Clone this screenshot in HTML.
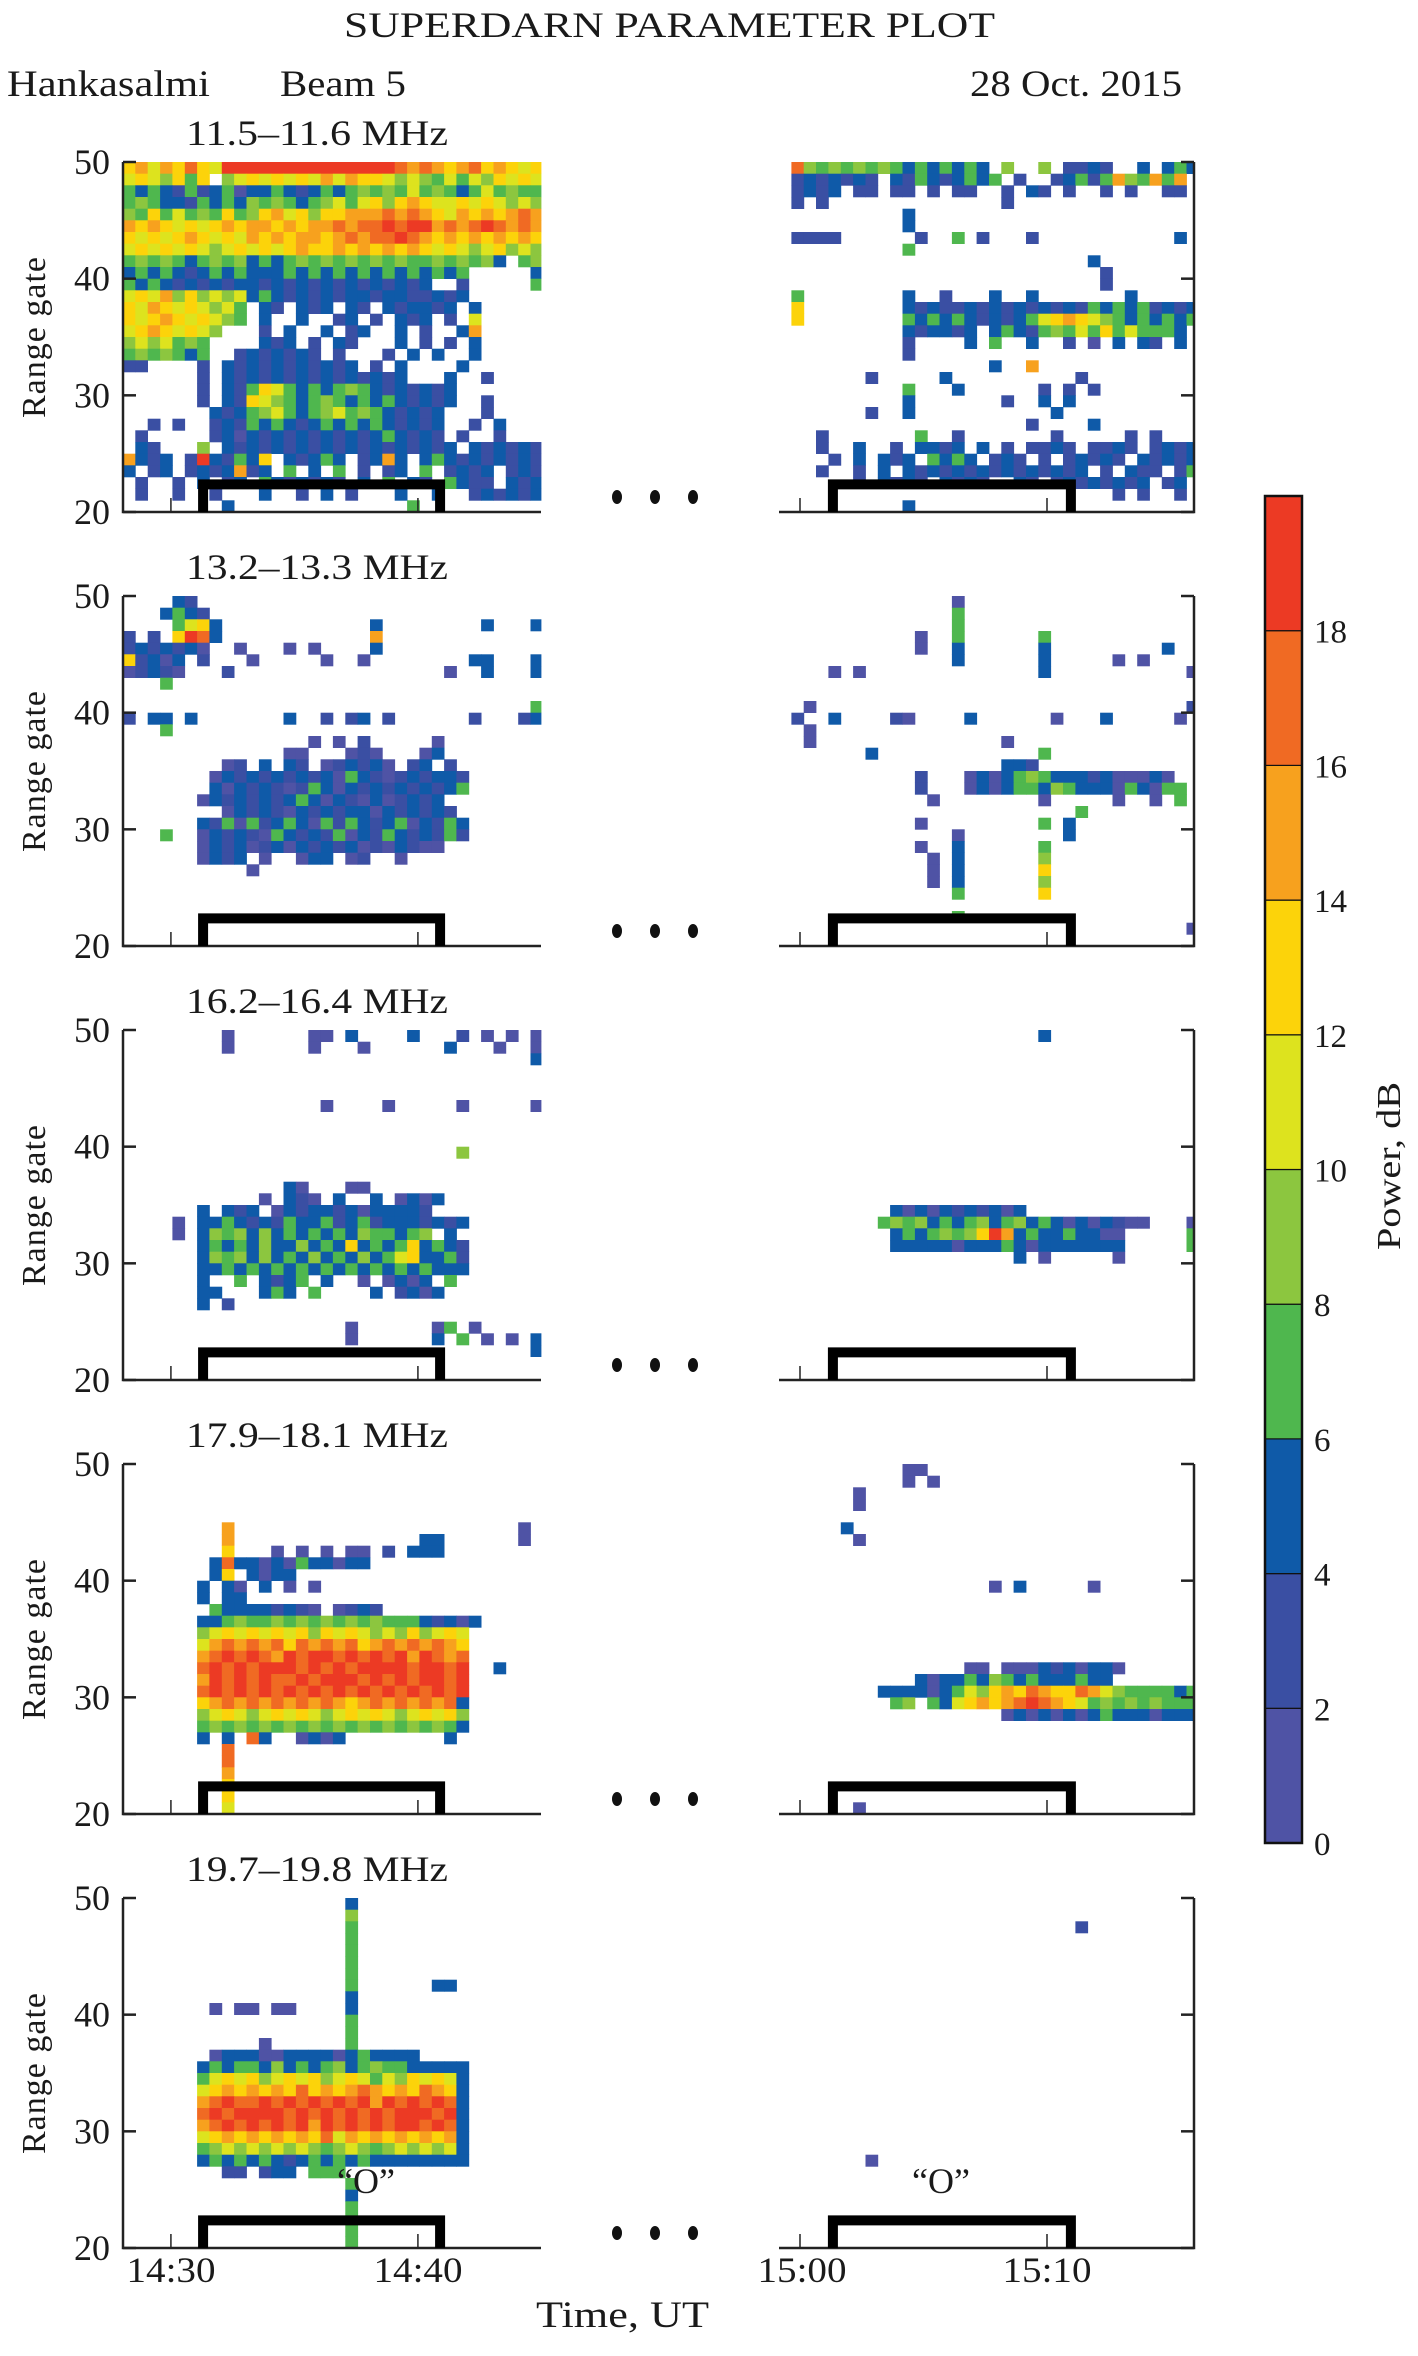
<!DOCTYPE html>
<html><head><meta charset="utf-8"><title>SuperDARN parameter plot</title>
<style>
html,body{margin:0;padding:0;background:#fff;}
svg{display:block;}
text{font-family:"Liberation Serif",serif;fill:#1a1a1a;}
</style></head>
<body>
<svg id="chart" xmlns="http://www.w3.org/2000/svg" width="1418" height="2356" viewBox="0 0 1418 2356">
<rect x="0" y="0" width="1418" height="2356" fill="#fff"/>
<text x="344" y="37" font-size="36" textLength="651" lengthAdjust="spacingAndGlyphs">SUPERDARN PARAMETER PLOT</text>
<text x="7" y="96" font-size="37" textLength="203" lengthAdjust="spacingAndGlyphs">Hankasalmi</text>
<text x="280" y="96" font-size="37" textLength="126" lengthAdjust="spacingAndGlyphs">Beam 5</text>
<text x="970" y="96" font-size="37" textLength="212" lengthAdjust="spacingAndGlyphs">28 Oct. 2015</text>
<g id="panels"></g>
<g id="colorbar"></g>
<text transform="translate(1400,1166) rotate(-90)" text-anchor="middle" font-size="34" textLength="168" lengthAdjust="spacingAndGlyphs">Power, dB</text>
<text x="171" y="2282" text-anchor="middle" font-size="36" textLength="89" lengthAdjust="spacingAndGlyphs">14:30</text>
<text x="418" y="2282" text-anchor="middle" font-size="36" textLength="89" lengthAdjust="spacingAndGlyphs">14:40</text>
<text x="802" y="2282" text-anchor="middle" font-size="36" textLength="89" lengthAdjust="spacingAndGlyphs">15:00</text>
<text x="1047" y="2282" text-anchor="middle" font-size="36" textLength="89" lengthAdjust="spacingAndGlyphs">15:10</text>
<text x="536" y="2327" font-size="37" textLength="173" lengthAdjust="spacingAndGlyphs">Time, UT</text>
<text x="366" y="2193" text-anchor="middle" font-size="36">“O”</text>
<text x="941" y="2193" text-anchor="middle" font-size="36">“O”</text>
</svg>
<script>
// ---- data ----
const freqLabels = ["11.5–11.6 MHz","13.2–13.3 MHz","16.2–16.4 MHz","17.9–18.1 MHz","19.7–19.8 MHz"];
const yTickValues = [20,30,40,50];
const xTickTimesLeft = [870,880];
const xTickTimesRight = [900,910];
const colorbarTicks = [0,2,4,6,8,10,12,14,16,18];
const bracketLeft = [871.1,881.1];
const bracketRight = [901.13,911.17];
const leftStartTime = 868.06;
const rightStartTime = 899.15;
const cellMinutes = 0.5;
// rows: gate 49 (first) down to gate 20 (last); '.' = no echo; digit = power bin (2 dB each)
const p1Left = [
"6757686599999999999999878767867656",
"5654636.45656565757665454353546565",
"3232131230223212323434353432353433",
"3432213232434323453564676556565454",
"4363534363467564667778787657676787",
"7676565676776767787889899787898787",
"6565676565767677678788987676767676",
"5656565456565676676767676565456454",
"3434323434232343434343433434342.34",
"2323212323222323232323232323.....2",
"3232121212212121212121212..1.....3",
"5657464545232121212212211212......",
"6576565453.21.212.21.212212.2.....",
"6567656543.2..2..12.1.212.1.5.....",
"56765654...1.2..2.12..2.1..27.....",
"4545343....212.1.21...2.1.1.2.....",
"3434323..1212121.1...1.2.2..2.....",
"11....1.21212121212.1.2....2......",
"......1.212121212121212...2..1....",
"......1.2136532323432121212.......",
"......1.2165432343232321212..1....",
".......2123453234534321212...1....",
"..1.1..1213232123232321212..1.2...",
".1.....1202121212121232121.1..1...",
".21...4.2121212121212121212.212121",
"7212.1921326.21232.1272.2321212121",
"2.12.1212712.3.2.3.1.12.3.1212.121",
".1..1.2.12.3212121.2.3.21.3211.212",
".1..1..1...2..1.2.1...2..2..121212",
"........2..............3.........."];
const p1Right = [
".8434343432323232.4..4.1121..2.232",
".1212121.213212323.1..12313743737",
".1212.11.11.1.11..1.21.1..1.1..11",
".1.1..............1...............",
"..........2.......................",
"..........2.......................",
".1111......1..3.1...1...........2.",
"..........3.......................",
".........................2........",
"..........................1.......",
"..........................1.......",
".3........2..1...2..2.......2.....",
".6........2121121212121213232312121",
".6........3232321212356765432323232",
"..........212212.2321343536353332.3",
"..........1....2.3..2..1.0.2.21.2.",
"..........1.......................",
".................2..7.............",
".......1.....2..........1.........",
"..........3...2......1.1.1........",
"..........2.......1..2.2..........",
".......1..2...........2...........",
"....................1....2........",
"...1.......3..1.......1.....1.1...",
"...1..2..1.2212.2.1.1121.1121.1212",
"....1.2.212.3232.121.1.12121.21212",
"...1..1.2.212121212121212.1.211.13",
"......1.2121.2121..21.12121212.12.",
"...........................1.1..1.",
"..........2......................."];
const p2Left = [
"....21............................",
"...2321...........................",
"....3562............2........2...2",
"1.1.6982............7.............",
"1212120..0...0.0....2.............",
"61202.1...0.....0..0........22...2",
"01210...1.................0..2...2",
"...3..............................",
"..................................",
".................................3",
"1.22.2.......2..1.12.1......1...12",
"...3..............................",
"...............0.0.1.....0........",
".............00...010...02........",
"........01.2.21.012120.12.1.......",
".......021212121203210121221......",
".......202121013202121212123......",
"......02121212320210201212........",
"........0212102121220212121.......",
"......2130312320313212302132......",
"...3..0212103212130213212131......",
"......02120120212120102100........",
"......0212.0..022.01..0...........",
"..........0.......................",
"..................................",
"..................................",
"..................................",
"..................................",
"..................................",
".................................."];
const p2Right = [
"..............0...................",
"..............3...................",
"..............3...................",
"...........0..3......3............",
"...........0..2......2.........2..",
"..............2......2.....0.0....",
"....0.0..............2...........0",
"..................................",
"..................................",
"..0..............................1",
".1..2....10....2......0...2.....0.",
"..0...............................",
"..0...............0...............",
".......2.............3............",
"..................221.............",
"...........1...02023432221200020..",
"...........1...020233243222032033.",
"............0........0.....0..0.3.",
"........................3.........",
"...........0.........3.2..........",
"..............0........2..........",
"...........0..2......3............",
"............0.2......4............",
"............0.2......6............",
"............0.2......4............",
"..............3......6............",
"..................................",
"..............3...................",
".................................0",
".................................."];
const p3Left = [
"........0......00.2....2...1.0.0.0",
"........0......0...0......2...0..0",
".................................2",
"..................................",
"..................................",
"..................................",
"................0....0.....0.....0",
"..................................",
"..................................",
"..................................",
"...........................4......",
"..................................",
"..................................",
".............20...00..............",
"...........0.210.2..2.0202........",
"......2.212.0212212022221.........",
"....0.2232121322312312221212......",
"....0.2434242323232433234.2.......",
"......2323242242326232362321......",
"......2434242324232423562231......",
"......2232323232323232323222......",
"......2..3.2123.2..0.0202.3.......",
"......22...232.3....2.1202........",
"......2.1.........................",
"..................................",
"..................0......03.0.....",
"..................0......2.3.0.0.2",
".................................2",
"..................................",
".................................."];
const p3Right = [
".....................2............",
"..................................",
"..................................",
"..................................",
"..................................",
"..................................",
"..................................",
"..................................",
"..................................",
"..................................",
"..................................",
"..................................",
"..................................",
"..................................",
"..................................",
".........20202121202..............",
"........3434232342342320202100...0",
".........2323434697232232200.....3",
".........2222202223202222222.....3",
"...................2.0.....0......",
"..................................",
"..................................",
"..................................",
"..................................",
"..................................",
"..................................",
"..................................",
"..................................",
"..................................",
".................................."];
const p4Left = [
"..................................",
"..................................",
"..................................",
"..................................",
"..................................",
"........7.......................0.",
"........7...............22......0.",
"........6...0.0.0.00.1.222........",
".......2822020322022..............",
".......26.2022....................",
"......2.20.2.0.0..................",
"......2.22........................",
".......322221210.0121.............",
"......22343343434343433321202.....",
"......4565656564656545464565......",
"......5787878687878678787876......",
"......7898987989989898979878......",
"......8989899989898999989989..2...",
"......7989898898999898989989......",
"......8989898989898989898989......",
"......6787878787876787878782......",
"......4565456565456565456564......",
"......3434343434343434343432......",
"......2.2.82..0202........2.......",
"........8.........................",
"........8.........................",
"........7.........................",
"........6.........................",
"........6.........................",
"........5........................."];
const p4Right = [
"..........00......................",
"..........0.0.....................",
"......0...........................",
"......0...........................",
"..................................",
".....2............................",
"......0...........................",
"..................................",
"..................................",
"..................................",
".................0.2.....0........",
"..................................",
"..................................",
"..................................",
"..................................",
"..................................",
"..................................",
"...............00.0002120220......",
"...........2022324323222322.......",
"........222202354676876687543333232",
".........34.3256767898765343434333",
"..................02020202322202222",
"..................................",
"..................................",
"..................................",
"..................................",
"..................................",
"..................................",
"..................................",
"......0..........................."];
const p5Left = [
"..................2...............",
"..................4...............",
"..................3...............",
"..................3...............",
"..................3...............",
"..................3...............",
"..................3...............",
"..................3......22.......",
"..................2...............",
".......0.00.00....2...............",
"..................3...............",
"..................3...............",
"...........0......3...............",
".......02220022220232222..........",
"......2323324232342343322222......",
"......3565645656456535465652......",
"......5676767686767876768762......",
"......7898898989898979898982......",
"......8989999898989898999892......",
"......7898989897989898998982......",
"......5676767676857676767672......",
"......3454545454345434545452......",
"......2323232123232322222222......",
"........11.122.333................",
"..................3...............",
"..................2...............",
"..................3...............",
"..................3...............",
"..................3...............",
"..................3..............."];
const p5Right = [
"..................................",
"..................................",
"........................1.........",
"..................................",
"..................................",
"..................................",
"..................................",
"..................................",
"..................................",
"..................................",
"..................................",
"..................................",
"..................................",
"..................................",
"..................................",
"..................................",
"..................................",
"..................................",
"..................................",
"..................................",
"..................................",
"..................................",
".......0..........................",
"..................................",
"..................................",
"..................................",
"..................................",
"..................................",
"..................................",
".................................."];
const leftData = [p1Left,p2Left,p3Left,p4Left,p5Left];
const rightData = [p1Right,p2Right,p3Right,p4Right,p5Right];

// ---- style / layout ----
const levelColors = ["#4f53a5","#3a4fa3","#0f5aa8","#4fb74e","#8cc63f","#dde31e","#fcd30a","#f7a11e","#f06a23","#ec3a24"];
const NS = "http://www.w3.org/2000/svg";
const panelTop0 = 162, panelSpacing = 434, panelH = 350;
const pxPerMin = 24.7;
const leftX0 = 123, leftX1 = 541, rightX0 = 779, rightX1 = 1194;
function xLeft(t){ return leftX0 + (t - leftStartTime) * pxPerMin; }
function xRight(t){ return rightX0 + (t - rightStartTime) * pxPerMin; }
function yGate(k, g){ const top = panelTop0 + k*panelSpacing; return top + (50 - g) / 30 * panelH; }
function mk(tag, attrs, parent){ const e = document.createElementNS(NS, tag); for (const a in attrs) e.setAttribute(a, attrs[a]); parent.appendChild(e); return e; }

const root = document.getElementById('panels');
for (let k = 0; k < 5; k++) {
  const g = mk('g', {}, root);
  
  
  const top = yGate(k, 50), bot = yGate(k, 20);
  // cells
  [[leftData[k], xLeft, leftStartTime, 'left'], [rightData[k], xRight, rightStartTime, 'right']].forEach(([rows, xf, t0, side]) => {
    rows.forEach((row, r) => {
      const gate = 49 - r;
      for (let i = 0; i < row.length; i++) {
        const c = row[i];
        if (c === '.') continue;
        const x = xf(t0 + i*cellMinutes), x2 = xf(t0 + (i+1)*cellMinutes);
        const xmax = side === 'left' ? leftX1 : rightX1;
        if (x >= xmax) continue;
        const y = yGate(k, gate+1), y2 = yGate(k, gate);
        const rect = mk('rect', {x: x.toFixed(1), y: y.toFixed(1), width: (Math.min(x2, xmax) - x + 0.4).toFixed(1), height: (y2 - y + 0.3).toFixed(1), fill: levelColors[+c]}, g);
        
        
      }
    });
  });
  // axes
  const st = {stroke:'#222', 'stroke-width':2.5, fill:'none'};
  const la = mk('path', Object.assign({d:`M${leftX0},${top} L${leftX0},${bot} L${leftX1},${bot}`}, st), g);
  
  
  const ra = mk('path', Object.assign({d:`M${rightX0},${bot} L${rightX1},${bot} L${rightX1},${top}`}, st), g);
  
  
  yTickValues.forEach(v => {
    const y = yGate(k, v);
    const t1 = mk('line', {x1:leftX0, y1:y, x2:leftX0+13, y2:y, stroke:'#222','stroke-width':2.5}, g);
    
    
    const t2 = mk('line', {x1:rightX1-13, y1:y, x2:rightX1, y2:y, stroke:'#222','stroke-width':2.5}, g);
    
    
    const lb = mk('text', {x:110, y:y+12, 'text-anchor':'end', 'font-size':36}, g);
    lb.textContent = v;
    
    
  });
  xTickTimesLeft.forEach(t => {
    const x = xLeft(t);
    const tk = mk('line', {x1:x, y1:bot, x2:x, y2:bot-14, stroke:'#222','stroke-width':1.5}, g);
    
    
  });
  xTickTimesRight.forEach(t => {
    const x = xRight(t);
    const tk = mk('line', {x1:x, y1:bot, x2:x, y2:bot-14, stroke:'#222','stroke-width':1.5}, g);
    
    
  });
  // brackets
  const by = yGate(k, 22.8);
  [[xLeft(bracketLeft[0]), xLeft(bracketLeft[1])], [xRight(bracketRight[0]), xRight(bracketRight[1])]].forEach(([a, b]) => {
    const br = mk('path', {d:`M${a+5},${bot} L${a+5},${by+5} L${b-5},${by+5} L${b-5},${bot}`, stroke:'#000','stroke-width':10, fill:'none'}, g);
    
    
  });
  // ellipsis dots
  [617,655,693].forEach(cx => {
    const d = mk('ellipse', {cx:cx, cy:bot-15, rx:5, ry:7, fill:'#111'}, g);
    
    
  });
  // labels
  const fl = mk('text', {x:186, y:145 + k*panelSpacing, 'font-size':36, textLength:262, lengthAdjust:'spacingAndGlyphs'}, g);
  fl.textContent = freqLabels[k];
  
  
  const cy = (top + bot) / 2;
  const yl = mk('text', {transform:`translate(45,${cy}) rotate(-90)`, 'text-anchor':'middle', 'font-size':34, 'letter-spacing':1}, g);
  yl.textContent = 'Range gate';
  
  
}

// colorbar
const cb = document.getElementById('colorbar');
const cbTop = 496, cbBot = 1843, cbX = 1265, cbW = 37;
const segH = (cbBot - cbTop) / levelColors.length;
levelColors.forEach((col, i) => {
  const y = cbBot - (i+1)*segH;
  const r = mk('rect', {x:cbX, y:y, width:cbW, height:segH, fill:col, stroke:'#111', 'stroke-width':1.2}, cb);
  
  
});
mk('rect', {x:cbX, y:cbTop, width:cbW, height:cbBot-cbTop, fill:'none', stroke:'#111', 'stroke-width':2.5}, cb);
colorbarTicks.forEach((v, i) => {
  const t = mk('text', {x:1314, y:cbBot - i*segH + 12, 'font-size':33}, cb);
  t.textContent = v;
  
  
});
</script>
</body></html>
